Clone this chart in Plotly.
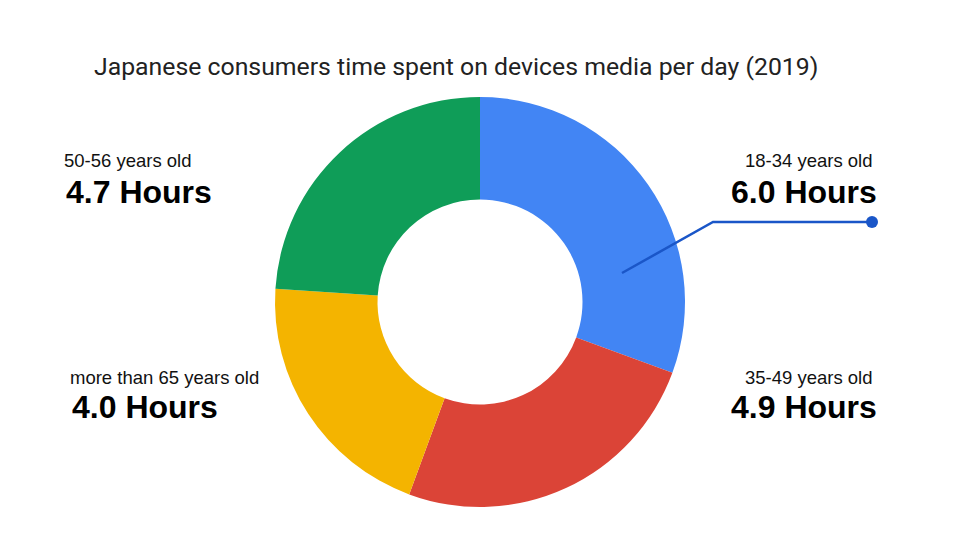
import plotly.graph_objects as go

groups = ["18-34 years old", "35-49 years old", "more than 65 years old", "50-56 years old"]
hours = [6.0, 4.9, 4.0, 4.7]
colors = ["#4285F4", "#DB4437", "#F4B400", "#0F9D58"]

W, H = 960, 540
cx, cy, R = 480, 302, 205

fig = go.Figure(go.Pie(
    labels=groups, values=hours, sort=False, direction="clockwise", rotation=0,
    hole=0.5, marker=dict(colors=colors, line=dict(width=0)),
    textinfo="none", hoverinfo="label+value", showlegend=False,
    domain=dict(x=[(cx - R) / W, (cx + R) / W], y=[1 - (cy + R) / H, 1 - (cy - R) / H]),
))

def px(x):
    return x / W

def py(y):
    return 1 - y / H

# label positions: (x_small, x_big, y_small, y_big, anchor)
pos = {
    "18-34 years old": (875, 879, 160, 192, "right"),
    "35-49 years old": (875, 879, 377, 407, "right"),
    "more than 65 years old": (68, 70, 377, 407, "left"),
    "50-56 years old": (62, 64, 160, 192, "left"),
}
ann = []
for g, v in zip(groups, hours):
    xs, xb, ys, yb, anc = pos[g]
    ann.append(dict(x=px(xs), y=py(ys), xref="paper", yref="paper", text=g, showarrow=False,
                    xanchor=anc, yanchor="middle",
                    font=dict(family="Liberation Sans, Arial", size=18.5, color="#111")))
    ann.append(dict(x=px(xb), y=py(yb), xref="paper", yref="paper",
                    text=f"<b>{v:.1f} Hours</b>", showarrow=False, xanchor=anc, yanchor="middle",
                    font=dict(family="Liberation Sans, Arial", size=32, color="#000")))

shapes = [
    dict(type="path", xref="paper", yref="paper",
         path=f"M {px(622)},{py(273)} L {px(713)},{py(222)} L {px(872)},{py(222)}",
         line=dict(color="#1a56c8", width=2.5)),
    dict(type="circle", xref="paper", yref="paper",
         x0=px(866), x1=px(878), y0=py(228), y1=py(216),
         fillcolor="#1a56c8", line=dict(width=0)),
]

fig.update_layout(
    width=W, height=H, margin=dict(l=0, r=0, t=0, b=0),
    paper_bgcolor="white", plot_bgcolor="white",
    title=dict(text="Japanese consumers time spent on devices media per day (2019)",
               x=px(94), xanchor="left", y=py(66), yanchor="middle",
               font=dict(family="Roboto", size=24.8, color="#222")),
    annotations=ann, shapes=shapes,
)

fig.write_html("out.html")
